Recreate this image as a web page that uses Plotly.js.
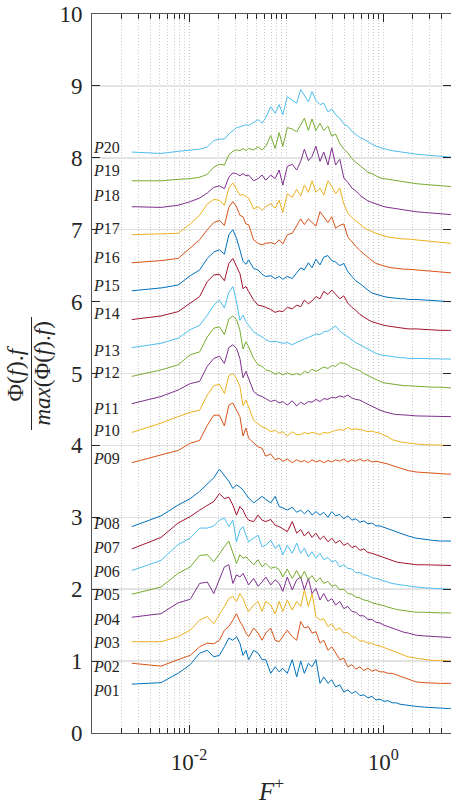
<!DOCTYPE html>
<html>
<head>
<meta charset="utf-8">
<script src="https://cdn.plot.ly/plotly-3.0.1.min.js"></script>
<style>html,body{margin:0;padding:0;background:#fff;}#chart{width:451px;height:805px;}</style>
</head>
<body>
<div id="chart"></div>
<script>
// Frequency F+ (shared x values)
var F = [0.00257,0.00514,0.00771,0.01028,0.01285,0.01542,0.01799,0.02056,0.02313,0.0257,
0.02827,0.03084,0.03341,0.03598,0.03855,0.04112,0.04626,0.0514,0.05654,0.06168,
0.06939,0.0771,0.08481,0.09252,0.1028,0.1157,0.1285,0.1414,0.1542,0.1696,
0.185,0.203,0.2236,0.2442,0.2699,0.2956,0.3238,0.3572,0.3932,0.4318,
0.4755,0.5217,0.5757,0.6322,0.6965,0.7659,0.843,0.9278,1.020,1.123,
1.236,1.360,1.496,1.645,1.809,2.190,2.650,3.207,3.881,4.695,
4.999];

var P01 = [0.68,0.70,0.83,0.95,1.11,1.15,1.06,1.08,1.20,1.32,1.29,1.34,1.25,1.08,1.15,1.02,1.15,1.11,1.02,1.02,0.83,0.92,0.85,0.90,0.83,1.02,0.78,1.00,0.83,0.97,0.92,1.02,0.69,0.78,0.69,0.74,0.64,0.67,0.57,0.60,0.55,0.58,0.52,0.53,0.49,0.51,0.46,0.47,0.44,0.45,0.42,0.42,0.40,0.39,0.38,0.37,0.36,0.35,0.34,0.34,0.34];
var P02 = [0.97,0.93,1.02,1.08,1.20,1.25,1.24,1.29,1.43,1.48,1.57,1.66,1.55,1.48,1.39,1.34,1.46,1.39,1.29,1.39,1.46,1.29,1.27,1.34,1.43,1.34,1.29,1.55,1.46,1.48,1.39,1.41,1.25,1.29,1.15,1.20,1.11,1.02,1.04,0.92,0.95,0.89,0.92,0.87,0.90,0.86,0.88,0.85,0.85,0.83,0.83,0.81,0.78,0.76,0.74,0.71,0.70,0.69,0.69,0.69,0.69];
var P03 = [1.27,1.27,1.34,1.43,1.57,1.62,1.52,1.64,1.76,1.87,1.90,1.83,1.94,1.87,1.76,1.69,1.78,1.83,1.69,1.83,1.78,1.66,1.83,1.69,1.85,1.71,1.83,1.76,1.99,1.76,1.94,1.62,1.57,1.59,1.48,1.52,1.43,1.46,1.39,1.40,1.34,1.33,1.28,1.28,1.25,1.25,1.22,1.21,1.19,1.17,1.15,1.13,1.11,1.08,1.06,1.04,1.02,1.01,1.01,1.00,1.00];
var P04 = [1.61,1.66,1.81,1.86,2.08,2.10,1.94,2.13,2.31,2.34,2.08,2.20,2.17,2.22,2.13,2.06,2.15,2.04,2.10,2.17,2.06,2.13,2.08,1.97,2.17,1.99,2.13,2.17,1.99,2.15,1.94,2.01,1.85,1.94,1.83,1.87,1.78,1.83,1.73,1.76,1.69,1.68,1.63,1.63,1.58,1.58,1.54,1.53,1.50,1.48,1.46,1.43,1.41,1.40,1.39,1.36,1.35,1.34,1.34,1.33,1.33];
var P05 = [1.93,2.03,2.22,2.31,2.47,2.48,2.38,2.50,2.59,2.67,2.50,2.36,2.48,2.43,2.45,2.41,2.34,2.41,2.31,2.36,2.29,2.31,2.27,2.17,2.28,2.15,2.26,2.15,2.25,2.13,2.19,2.10,2.16,2.08,2.11,2.04,2.06,1.99,2.00,1.94,1.93,1.89,1.88,1.85,1.84,1.81,1.80,1.78,1.77,1.75,1.73,1.72,1.71,1.70,1.69,1.68,1.68,1.67,1.67,1.67,1.67];
var P06 = [2.26,2.40,2.62,2.71,2.85,2.85,2.88,2.96,2.99,2.87,2.96,2.66,2.82,2.87,2.75,2.66,2.71,2.75,2.59,2.61,2.68,2.57,2.62,2.48,2.61,2.50,2.64,2.50,2.57,2.45,2.52,2.43,2.50,2.41,2.44,2.38,2.40,2.31,2.34,2.29,2.28,2.23,2.23,2.20,2.19,2.16,2.15,2.13,2.12,2.10,2.08,2.07,2.06,2.05,2.04,2.03,2.02,2.01,2.01,2.00,2.00];
var P07 = [2.56,2.72,2.92,3.01,3.10,3.17,3.22,3.33,3.26,3.28,3.17,3.03,3.15,3.10,3.01,2.96,2.94,3.03,2.96,2.94,2.97,2.89,2.87,2.84,2.80,2.94,2.78,2.83,2.74,2.80,2.72,2.78,2.69,2.74,2.66,2.71,2.64,2.68,2.61,2.64,2.58,2.60,2.54,2.56,2.51,2.50,2.48,2.45,2.43,2.41,2.39,2.38,2.37,2.36,2.35,2.34,2.34,2.34,2.33,2.33,2.33];
var P08 = [2.87,3.02,3.17,3.26,3.36,3.47,3.55,3.67,3.58,3.50,3.40,3.45,3.42,3.38,3.32,3.27,3.20,3.25,3.29,3.25,3.20,3.29,3.15,3.13,3.10,3.14,3.07,3.10,3.05,3.10,3.03,3.08,3.03,3.07,3.00,3.08,3.02,3.04,2.98,3.02,2.96,2.98,2.93,2.95,2.91,2.92,2.88,2.88,2.86,2.84,2.82,2.80,2.78,2.76,2.74,2.71,2.69,2.68,2.67,2.67,2.67];
var P09 = [3.76,3.87,3.93,4.03,4.07,4.28,4.42,4.42,4.27,4.56,4.59,4.49,4.40,4.13,4.24,4.10,4.03,3.98,3.96,3.85,3.88,3.80,3.82,3.78,3.81,3.76,3.80,3.77,3.79,3.76,3.80,3.77,3.79,3.76,3.79,3.77,3.80,3.78,3.81,3.77,3.80,3.78,3.81,3.78,3.80,3.77,3.78,3.77,3.76,3.74,3.72,3.70,3.68,3.66,3.65,3.63,3.62,3.61,3.61,3.60,3.60];
var P10 = [4.18,4.31,4.40,4.46,4.49,4.70,4.83,4.85,4.72,4.97,5.00,4.93,4.82,4.55,4.63,4.52,4.35,4.30,4.26,4.24,4.19,4.21,4.17,4.19,4.13,4.19,4.15,4.15,4.18,4.16,4.18,4.17,4.15,4.18,4.17,4.19,4.21,4.22,4.21,4.25,4.22,4.23,4.22,4.21,4.19,4.20,4.18,4.17,4.14,4.12,4.08,4.06,4.05,4.04,4.03,4.02,4.01,4.01,4.00,4.00,4.00];
var P11 = [4.58,4.68,4.77,4.86,4.89,5.10,5.21,5.24,5.14,5.36,5.40,5.35,5.21,4.94,5.03,4.92,4.75,4.70,4.68,4.65,4.61,4.63,4.59,4.61,4.56,4.62,4.55,4.60,4.57,4.61,4.60,4.64,4.61,4.65,4.64,4.67,4.66,4.69,4.67,4.70,4.66,4.64,4.63,4.60,4.57,4.54,4.52,4.49,4.47,4.45,4.44,4.43,4.43,4.42,4.42,4.41,4.41,4.41,4.40,4.40,4.40];
var P12 = [4.96,5.05,5.12,5.26,5.30,5.51,5.63,5.65,5.54,5.76,5.80,5.75,5.60,5.34,5.44,5.37,5.21,5.12,5.10,5.05,5.03,4.99,5.01,4.98,5.01,4.98,5.00,4.98,5.03,5.01,5.06,5.03,5.06,5.09,5.07,5.11,5.10,5.15,5.14,5.12,5.08,5.06,5.04,5.00,4.97,4.94,4.91,4.89,4.87,4.86,4.85,4.84,4.84,4.83,4.83,4.82,4.82,4.81,4.81,4.80,4.80];
var P13 = [5.36,5.42,5.49,5.61,5.67,5.81,5.95,6.02,5.91,6.13,6.21,6.00,5.74,5.81,5.72,5.67,5.58,5.54,5.51,5.47,5.44,5.45,5.43,5.42,5.43,5.40,5.43,5.46,5.48,5.50,5.52,5.55,5.54,5.58,5.59,5.62,5.66,5.59,5.55,5.50,5.46,5.43,5.40,5.37,5.34,5.31,5.28,5.26,5.25,5.24,5.23,5.23,5.22,5.22,5.21,5.21,5.21,5.20,5.20,5.20,5.20];
var P14 = [5.75,5.80,5.86,5.98,6.07,6.28,6.37,6.38,6.29,6.53,6.60,6.49,6.39,6.18,6.21,6.14,6.02,5.95,5.94,5.92,5.89,5.85,5.87,5.86,5.92,5.90,5.95,5.93,6.02,5.97,6.01,6.07,6.04,6.14,6.10,6.16,6.10,6.04,6.08,5.98,5.92,5.88,5.82,5.78,5.75,5.72,5.70,5.69,5.67,5.66,5.65,5.64,5.63,5.63,5.62,5.62,5.61,5.61,5.60,5.60,5.60];
var P15 = [6.15,6.19,6.23,6.36,6.44,6.60,6.69,6.72,6.66,6.93,7.00,6.88,6.72,6.56,6.52,6.58,6.46,6.44,6.38,6.35,6.36,6.32,6.35,6.31,6.35,6.32,6.40,6.47,6.44,6.54,6.47,6.59,6.51,6.62,6.64,6.57,6.55,6.50,6.53,6.42,6.35,6.29,6.25,6.20,6.16,6.12,6.10,6.08,6.07,6.06,6.05,6.05,6.04,6.04,6.03,6.03,6.02,6.01,6.01,6.00,6.00];
var P16 = [6.54,6.57,6.60,6.74,6.86,7.00,7.10,7.13,7.06,7.31,7.39,7.32,7.20,7.18,7.08,7.07,6.86,6.81,6.79,6.81,6.82,6.80,6.86,6.80,6.93,6.95,7.06,7.15,7.07,7.15,7.10,7.05,7.25,7.18,7.10,7.18,7.02,7.06,7.08,6.90,6.83,6.77,6.71,6.66,6.61,6.57,6.53,6.51,6.49,6.48,6.47,6.46,6.46,6.45,6.45,6.44,6.43,6.42,6.41,6.40,6.40];
var P17 = [6.93,6.94,6.95,7.08,7.20,7.36,7.42,7.41,7.34,7.58,7.65,7.56,7.48,7.49,7.47,7.44,7.29,7.32,7.27,7.32,7.36,7.30,7.41,7.24,7.50,7.45,7.56,7.47,7.62,7.52,7.68,7.52,7.58,7.48,7.68,7.60,7.50,7.58,7.36,7.23,7.17,7.12,7.07,7.03,7.00,6.97,6.95,6.93,6.91,6.90,6.89,6.88,6.88,6.87,6.87,6.86,6.85,6.84,6.83,6.82,6.81];
var P18 = [7.32,7.31,7.34,7.39,7.44,7.51,7.59,7.61,7.57,7.73,7.79,7.78,7.75,7.78,7.75,7.76,7.68,7.71,7.76,7.69,7.76,7.71,7.83,7.62,7.88,7.91,7.83,7.95,8.12,7.96,8.02,8.16,7.95,8.08,7.90,8.14,7.90,7.98,7.72,7.66,7.58,7.54,7.48,7.44,7.40,7.38,7.36,7.33,7.32,7.31,7.30,7.29,7.28,7.27,7.26,7.25,7.24,7.23,7.22,7.21,7.21];
var P19 = [7.68,7.68,7.70,7.71,7.73,7.77,7.87,7.91,7.90,8.04,8.09,8.11,8.10,8.13,8.10,8.13,8.11,8.15,8.11,8.16,8.31,8.13,8.35,8.16,8.42,8.40,8.36,8.45,8.55,8.38,8.54,8.38,8.48,8.38,8.44,8.30,8.33,8.20,8.12,8.07,7.99,7.94,7.89,7.85,7.80,7.78,7.75,7.72,7.71,7.70,7.69,7.68,7.67,7.66,7.65,7.64,7.63,7.62,7.61,7.60,7.60];
var P20 = [8.08,8.06,8.09,8.11,8.12,8.15,8.24,8.26,8.26,8.33,8.38,8.42,8.43,8.44,8.46,8.45,8.49,8.53,8.48,8.56,8.71,8.62,8.74,8.60,8.85,8.80,8.76,8.95,8.86,8.78,8.92,8.80,8.74,8.76,8.64,8.68,8.60,8.55,8.47,8.44,8.37,8.33,8.28,8.26,8.22,8.19,8.16,8.14,8.12,8.11,8.10,8.09,8.08,8.07,8.06,8.05,8.04,8.03,8.02,8.01,8.01];

var seriesNames = ['P01','P02','P03','P04','P05','P06','P07','P08','P09','P10','P11','P12','P13','P14','P15','P16','P17','P18','P19','P20'];
var seriesValues = [P01,P02,P03,P04,P05,P06,P07,P08,P09,P10,P11,P12,P13,P14,P15,P16,P17,P18,P19,P20];
// label levels (y value at which each series name is written)
var labelLevels = [0.59,0.92,1.26,1.58,1.92,2.24,2.58,2.91,3.82,4.21,4.52,5.02,5.32,5.83,6.22,6.62,7.02,7.47,7.82,8.14];
var xMajorTicks = [0.01, 1];
var xMajorText = ['10<sup>-2</sup>', '10<sup>0</sup>'];
var xMinorTicks = [0.002,0.003,0.004,0.005,0.006,0.007,0.008,0.009,
  0.02,0.03,0.04,0.05,0.06,0.07,0.08,0.09,0.1,
  0.2,0.3,0.4,0.5,0.6,0.7,0.8,0.9,2,3,4,5];

var palette = ['#0072BD','#D95319','#EDB120','#7E2F8E','#77AC30','#4DBEEE','#A2142F'];
var serif = '"Liberation Serif", "Times New Roman", Times, serif';
var axisColor = '#262626';
var lineColor = '#555555';

var traces = seriesValues.map(function (vals, i) {
  return {
    x: F, y: vals, type: 'scatter', mode: 'lines', name: seriesNames[i],
    line: {color: palette[i % 7], width: 1},
    hoverinfo: 'skip'
  };
});

var annotations = seriesNames.map(function (n, i) {
  return {
    xref: 'paper', yref: 'y', x: -0.004, y: labelLevels[i],
    xanchor: 'left', yanchor: 'middle', showarrow: false,
    text: '<i>P</i>' + n.slice(1),
    font: {family: serif, size: 16, color: axisColor}
  };
});
// y-axis title as a fraction
annotations.push({
  xref: 'paper', yref: 'paper', x: -0.2145, y: 0.5, xanchor: 'center', yanchor: 'middle',
  textangle: -90, showarrow: false, text: 'Φ(<i>f</i>).<i>f</i>',
  font: {family: serif, size: 24, color: axisColor}
});
annotations.push({
  xref: 'paper', yref: 'paper', x: -0.1365, y: 0.5, xanchor: 'center', yanchor: 'middle',
  textangle: -90, showarrow: false, text: '<i>max</i>(Φ(<i>f</i>).<i>f</i>)',
  font: {family: serif, size: 23, color: axisColor}
});

var layout = {
  width: 451, height: 805,
  margin: {l: 92, r: 0, t: 14, b: 72},
  paper_bgcolor: '#ffffff', plot_bgcolor: '#ffffff',
  showlegend: false,
  font: {family: serif, color: axisColor},
  xaxis: {
    type: 'log', range: [-3, Math.log10(5)],
    tickmode: 'array', tickvals: xMajorTicks, ticktext: xMajorText,
    ticks: 'inside', ticklen: 8, tickwidth: 1, tickcolor: axisColor,
    showline: true, linecolor: lineColor, linewidth: 1, mirror: 'allticks',
    showgrid: true, gridcolor: '#c8c8c8', griddash: '1px,2px', gridwidth: 1,
    zeroline: false, ticklabelstandoff: 8,
    tickfont: {family: serif, size: 23, color: axisColor},
    minor: {tickmode: 'array', tickvals: xMinorTicks, ticks: 'inside', ticklen: 5,
            tickcolor: axisColor, showgrid: true, gridcolor: '#c8c8c8', griddash: '1px,2px', gridwidth: 1},
    title: {text: '<i>F</i><sup>+</sup>', font: {family: serif, size: 25, color: axisColor}, standoff: 10}
  },
  yaxis: {
    range: [0, 10], tickmode: 'linear', tick0: 0, dtick: 1,
    ticks: 'inside', ticklen: 8, tickwidth: 1, tickcolor: axisColor,
    showline: true, linecolor: lineColor, linewidth: 1, mirror: 'allticks',
    showgrid: true, gridcolor: '#e3e3e3', gridwidth: 1.5, zeroline: false,
    ticklabelstandoff: 4,
    tickfont: {family: serif, size: 23, color: axisColor}
  },
  shapes: [{
    type: 'line', xref: 'paper', yref: 'paper',
    x0: -0.1685, x1: -0.1685, y0: 0.4214, y1: 0.5786,
    line: {color: axisColor, width: 1}
  }],
  annotations: annotations
};

Plotly.newPlot('chart', traces, layout, {displayModeBar: false, staticPlot: true});
</script>
</body>
</html>
